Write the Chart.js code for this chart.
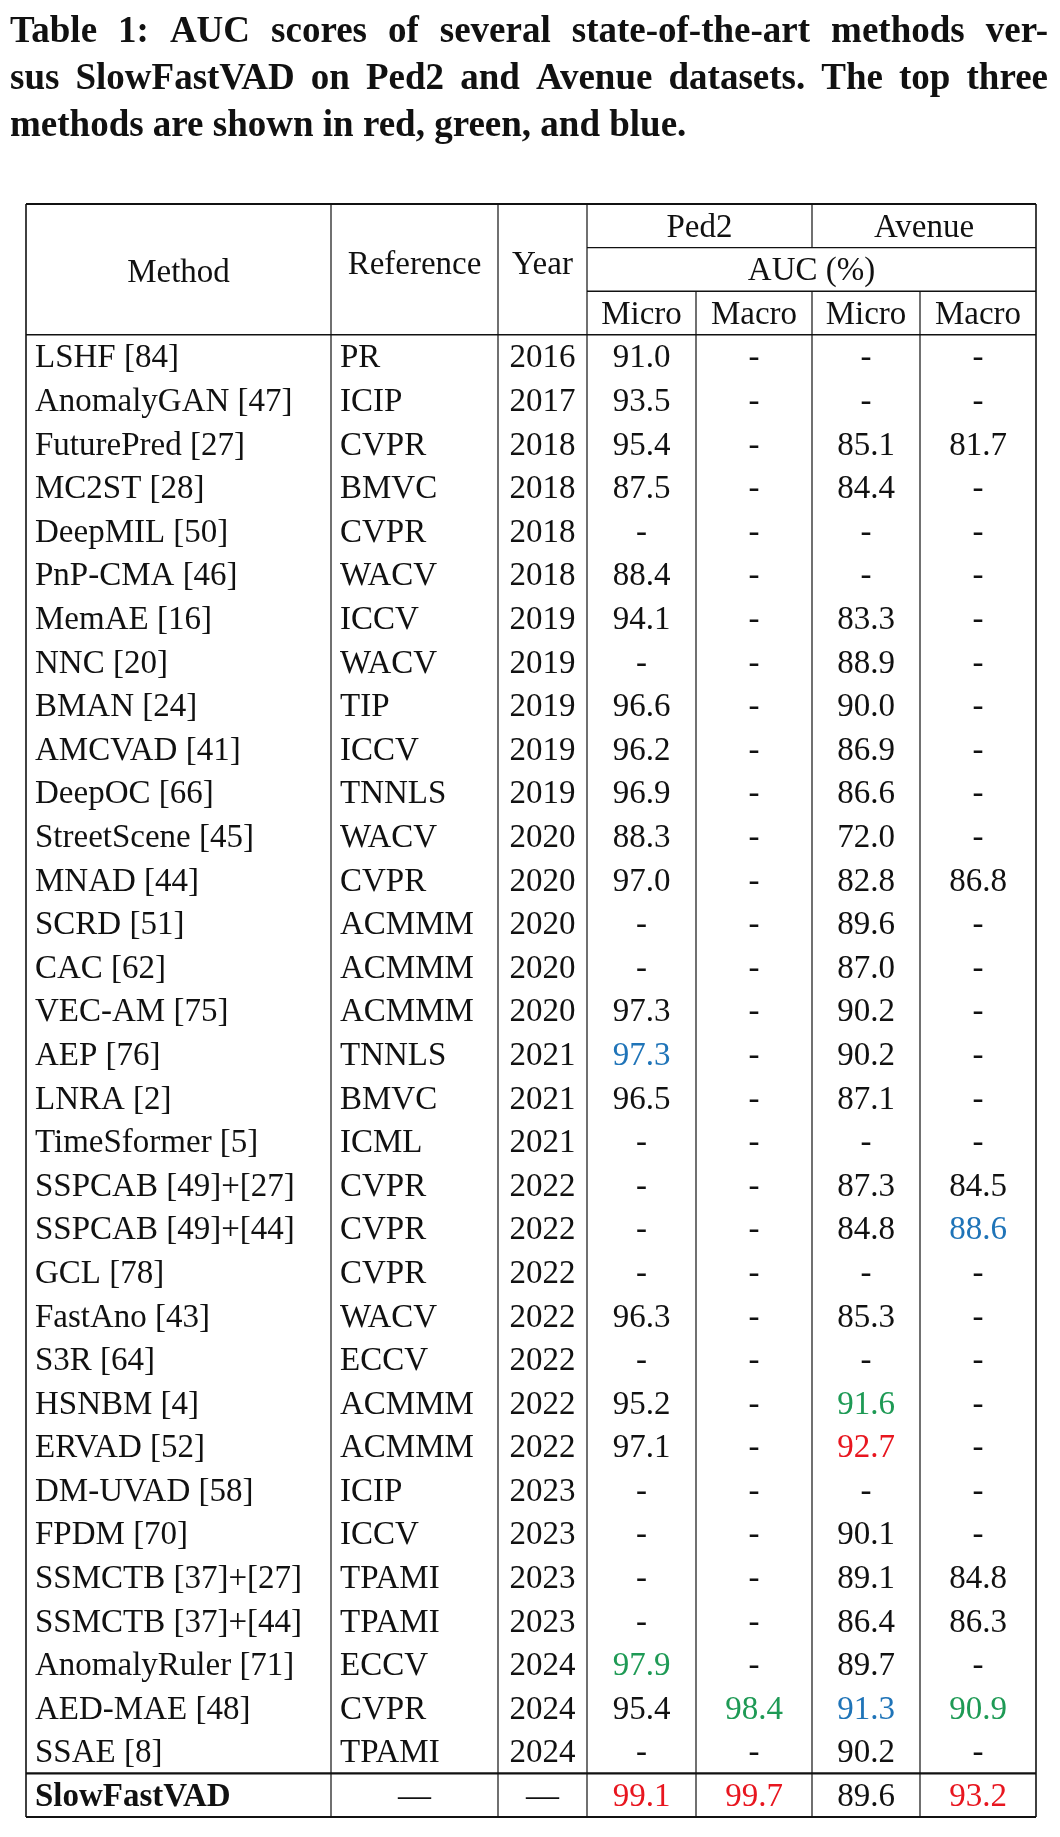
<!DOCTYPE html>
<html>
<head>
<meta charset="utf-8">
<script src="https://cdn.jsdelivr.net/npm/chart.js@4/dist/chart.umd.min.js"></script>
<style>
  html, body { margin: 0; padding: 0; background: #fff; }
  #wrap { width: 1060px; height: 1837px; position: relative; }
</style>
</head>
<body>
<div id="wrap"><canvas id="tbl"></canvas></div>
<script>
const titleLines = [
  'Table 1: AUC scores of several state-of-the-art methods ver-',
  'sus SlowFastVAD on Ped2 and Avenue datasets. The top three',
  'methods are shown in red, green, and blue.'
];

const methods = ['LSHF [84]', 'AnomalyGAN [47]', 'FuturePred [27]', 'MC2ST [28]', 'DeepMIL [50]', 'PnP-CMA [46]',
  'MemAE [16]', 'NNC [20]', 'BMAN [24]', 'AMCVAD [41]', 'DeepOC [66]', 'StreetScene [45]', 'MNAD [44]',
  'SCRD [51]', 'CAC [62]', 'VEC-AM [75]', 'AEP [76]', 'LNRA [2]', 'TimeSformer [5]', 'SSPCAB [49]+[27]',
  'SSPCAB [49]+[44]', 'GCL [78]', 'FastAno [43]', 'S3R [64]', 'HSNBM [4]', 'ERVAD [52]', 'DM-UVAD [58]',
  'FPDM [70]', 'SSMCTB [37]+[27]', 'SSMCTB [37]+[44]', 'AnomalyRuler [71]', 'AED-MAE [48]', 'SSAE [8]', 'SlowFastVAD'];
const references = ['PR', 'ICIP', 'CVPR', 'BMVC', 'CVPR', 'WACV', 'ICCV', 'WACV', 'TIP', 'ICCV', 'TNNLS', 'WACV', 'CVPR',
  'ACMMM', 'ACMMM', 'ACMMM', 'TNNLS', 'BMVC', 'ICML', 'CVPR', 'CVPR', 'CVPR', 'WACV', 'ECCV', 'ACMMM', 'ACMMM',
  'ICIP', 'ICCV', 'TPAMI', 'TPAMI', 'ECCV', 'CVPR', 'TPAMI', '—'];
const years = ['2016', '2017', '2018', '2018', '2018', '2018', '2019', '2019', '2019', '2019', '2019', '2020', '2020',
  '2020', '2020', '2020', '2021', '2021', '2021', '2022', '2022', '2022', '2022', '2022', '2022', '2022',
  '2023', '2023', '2023', '2023', '2024', '2024', '2024', '—'];
const ped2Micro = [91.0, 93.5, 95.4, 87.5, null, 88.4, 94.1, null, 96.6, 96.2, 96.9, 88.3, 97.0,
  null, null, 97.3, 97.3, 96.5, null, null, null, null, 96.3, null, 95.2, 97.1,
  null, null, null, null, 97.9, 95.4, null, 99.1];
const ped2Macro = [null, null, null, null, null, null, null, null, null, null, null, null, null,
  null, null, null, null, null, null, null, null, null, null, null, null, null,
  null, null, null, null, null, 98.4, null, 99.7];
const avenueMicro = [null, null, 85.1, 84.4, null, null, 83.3, 88.9, 90.0, 86.9, 86.6, 72.0, 82.8,
  89.6, 87.0, 90.2, 90.2, 87.1, null, 87.3, 84.8, null, 85.3, null, 91.6, 92.7,
  null, 90.1, 89.1, 86.4, 89.7, 91.3, 90.2, 89.6];
const avenueMacro = [null, null, 81.7, null, null, null, null, null, null, null, null, null, 86.8,
  null, null, null, null, null, null, 84.5, 88.6, null, null, null, null, null,
  null, null, 84.8, 86.3, null, 90.9, null, 93.2];
// top-three ranks: 1 red, 2 green, 3 blue ("row:col")
const ranks = { '16:3': 3, '20:6': 3, '24:5': 2, '25:5': 1, '30:3': 2, '31:4': 2, '31:5': 3, '31:6': 2,
  '33:3': 1, '33:4': 1, '33:6': 1 };

const rankColors = { 1: '#e8161f', 2: '#1e9a55', 3: '#1f74b8' };
const colEdges = [0, 305, 472, 561, 670, 786, 894, 1010];
const nRows = methods.length;
const serif = '"Liberation Serif", "DejaVu Serif", serif';
const cellFont = '33px ' + serif;

const tablePlugin = {
  id: 'tablePlugin',
  afterDraw(chart) {
    const ctx = chart.ctx;
    const x = chart.scales.x, y = chart.scales.y;
    const X = i => x.getPixelForValue(colEdges[i]);
    const Y = v => y.getPixelForValue(v);
    const line = (x1, y1, x2, y2, w) => {
      ctx.beginPath(); ctx.lineWidth = w; ctx.strokeStyle = '#111';
      ctx.moveTo(x1, y1); ctx.lineTo(x2, y2); ctx.stroke();
    };
    ctx.save();
    // title, first two lines justified to full width
    ctx.fillStyle = '#111';
    ctx.font = 'bold 37px ' + serif;
    ctx.textBaseline = 'alphabetic';
    ctx.textAlign = 'left';
    titleLines.forEach((t, i) => {
      const by = 42 + i * 47;
      const words = t.split(' ');
      if (i === 2) { ctx.fillText(t, 10, by); return; }
      const wordsW = words.reduce((s, w) => s + ctx.measureText(w).width, 0);
      const gap = (1048 - 10 - wordsW) / (words.length - 1);
      let cx = 10;
      words.forEach(w => { ctx.fillText(w, cx, by); cx += ctx.measureText(w).width + gap; });
    });

    const cellText = (t, c, row, align, color, bold) => {
      ctx.font = (bold ? 'bold ' : '') + cellFont;
      ctx.fillStyle = color || '#111';
      ctx.textBaseline = 'middle';
      ctx.textAlign = align;
      const cy = Y(row + 0.55);
      const cx = align === 'left' ? X(c) + 9 : (X(c) + X(c + 1)) / 2;
      ctx.fillText(t, cx, cy);
    };

    // header
    ctx.font = cellFont;
    ctx.fillStyle = '#111';
    ctx.textAlign = 'center';
    ctx.textBaseline = 'middle';
    ctx.fillText('Method', (X(0) + X(1)) / 2, Y(-1.4));
    ctx.fillText('Reference', (X(1) + X(2)) / 2, Y(-1.6));
    ctx.fillText('Year', (X(2) + X(3)) / 2, Y(-1.6));
    ctx.fillText('Ped2', (X(3) + X(5)) / 2, Y(-2.45));
    ctx.fillText('Avenue', (X(5) + X(7)) / 2, Y(-2.45));
    ctx.fillText('AUC (%)', (X(3) + X(7)) / 2, Y(-1.45));
    ['Micro', 'Macro', 'Micro', 'Macro'].forEach((t, i) => {
      ctx.fillText(t, (X(3 + i) + X(4 + i)) / 2, Y(-0.45));
    });

    // body
    const numCols = [ped2Micro, ped2Macro, avenueMicro, avenueMacro];
    for (let r = 0; r < nRows; r++) {
      const last = r === nRows - 1;
      cellText(methods[r], 0, r, 'left', null, last);
      cellText(references[r], 1, r, last ? 'center' : 'left');
      cellText(years[r], 2, r, 'center');
      numCols.forEach((arr, k) => {
        const v = arr[r];
        const rank = ranks[r + ':' + (3 + k)];
        cellText(v === null ? '-' : v.toFixed(1), 3 + k, r, 'center', rank ? rankColors[rank] : null);
      });
    }

    // grid
    const top = Y(-3), bottom = Y(nRows), hdr = Y(0);
    line(X(0), top, X(7), top, 2);
    line(X(0), bottom, X(7), bottom, 2);
    line(X(0), top, X(0), bottom, 1.6);
    line(X(7), top, X(7), bottom, 1.6);
    line(X(3), Y(-2), X(7), Y(-2), 1.4);
    line(X(3), Y(-1), X(7), Y(-1), 1.4);
    line(X(0), hdr, X(7), hdr, 1.4);
    line(X(0), Y(nRows - 1), X(7), Y(nRows - 1), 2.4);
    line(X(1), top, X(1), bottom, 1.2);
    line(X(2), top, X(2), bottom, 1.2);
    line(X(3), top, X(3), bottom, 1.2);
    line(X(5), top, X(5), Y(-2), 1.2);
    [4, 5, 6].forEach(c => line(X(c), Y(-1), X(c), bottom, 1.2));
    ctx.restore();
  }
};

new Chart(document.getElementById('tbl'), {
  type: 'scatter',
  data: { datasets: [{ data: [], pointRadius: 0 }] },
  options: {
    responsive: true,
    maintainAspectRatio: false,
    animation: false,
    layout: { padding: { top: 204, bottom: 20, left: 26, right: 24 } },
    plugins: { legend: { display: false }, tooltip: { enabled: false } },
    scales: {
      x: { type: 'linear', min: 0, max: 1010, display: false },
      y: { type: 'linear', min: -3, max: nRows, reverse: true, display: false }
    }
  },
  plugins: [tablePlugin]
});
</script>
</body>
</html>
